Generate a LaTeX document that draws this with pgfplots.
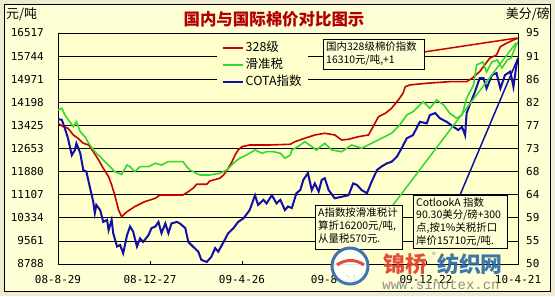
\documentclass[border=0pt]{standalone}
\usepackage{fontspec}
\setmainfont{Noto Sans CJK SC}
\newfontfamily\tickfont{DejaVu Sans Mono}
\newfontfamily\wwwfont{Liberation Mono}
\usepackage{pgfplots}
\pgfplotsset{compat=1.18}
\definecolor{bgout}{HTML}{EFEBD3}
\definecolor{bgin}{HTML}{FFFFD6}
\definecolor{bgplot}{HTML}{FFFFCC}
\definecolor{cred}{HTML}{C80000}
\definecolor{cgreen}{HTML}{33D633}
\definecolor{cblue}{HTML}{1010A8}
\definecolor{ctitle}{HTML}{B00000}
\definecolor{wmred}{HTML}{E03A2A}
\definecolor{wmblue}{HTML}{2A66A8}

\begin{document}
\begin{tikzpicture}[x=1bp,y=1bp]
\fill[bgout] (0,0) rectangle (555,296);
\draw[fill=bgin, line width=0.8bp] (4.5,4.5) rectangle (550.5,291.5);

\begin{axis}[at={(58bp,32bp)}, anchor=south west, scale only axis,
 width=460bp, height=231bp,
 xmin=0, xmax=600, ymin=8788, ymax=16517,
 scaled y ticks=false, scaled x ticks=false,
 axis background/.style={fill=bgplot},
 axis line style={black, line width=0.8bp},
 xtick={0,120,240,360,480,600},
 xticklabels={08-8-29,08-12-27,09-4-26,09-8-24,09-12-22,10-4-21},
 xtick pos=lower,
 ytick={8788,9561,10334,11107,11880,12653,13425,14198,14971,15744,16517},
 yticklabels={8788,9561,10334,11107,11880,12653,13425,14198,14971,15744,16517},
 ytick pos=left,
 ymajorgrids, grid style={black, line width=0.7bp},
 major tick length=3bp,
 ytick style={draw=none},
 xtick style={black, line width=0.7bp},
 ticklabel style={font=\tickfont\fontsize{11}{12}\selectfont},
 yticklabel style={inner sep=0pt, xshift=-14bp},
 xticklabel style={inner sep=0pt, yshift=-11bp},
]
\addplot[cred, line width=1.6bp] coordinates {
(0,13497) (7,13383) (13,13330) (20,13105) (26,12995) (33,12828) (40,12771)
(46,12546) (53,12269) (59,11991) (66,11710) (70,11432) (74,11097) (79,10595)
(83,10371) (90,10538) (100,10706) (113,10873) (127,10987) (133,11097) (163,11097)
(170,11208) (176,11322) (181,11455) (194,11455) (198,11566) (211,11656) (216,11767)
(222,11991) (227,12212) (231,12436) (235,12603) (240,12714) (250,12771) (277,12771)
(303,12794) (309,12881) (322,12995) (335,13105) (348,13162) (361,13105) (370,12938)
(379,12961) (392,13049) (405,13105) (411,13383) (418,13718) (427,13832) (435,13999)
(444,14277) (450,14501) (453,14722) (459,14779) (481,14836) (511,14889) (533,14889)
(540,15003) (550,15224) (563,15672) (572,15783) (577,16061) (585,16174) (594,16285)
(600,16342)};
\addplot[cgreen, line width=1.6bp] coordinates {
(0,13942) (5,13999) (9,13775) (20,13383) (24,13551) (29,13216) (35,13049) (40,12828)
(48,12546) (55,12379) (61,12212) (68,12044) (74,11877) (83,11790) (90,12101) (94,12044)
(100,11877) (107,12044) (118,12044) (127,12158) (135,12101) (144,12212) (153,12212)
(163,12212) (168,12044) (172,11934) (185,11767) (198,11767) (211,11824) (220,11934)
(231,12212) (237,12326) (246,12436) (257,12603) (266,12493) (272,12546) (281,12546)
(290,12493) (296,12326) (303,12436) (305,12603) (313,12714) (322,12881) (331,12714)
(337,12603) (348,12828) (357,12603) (370,12546) (383,12771) (396,12660) (409,12828)
(422,12995) (435,13162) (446,13450) (455,13775) (463,13885) (472,14109) (476,14220)
(485,13999) (494,14277) (503,14109) (511,13832) (520,13664) (527,13775) (533,14334)
(542,14779) (546,15448) (554,15549) (559,15214) (566,15549) (573,15615) (579,15348)
(586,15615) (591,15682) (596,16017) (600,16218)};
\end{axis}

\begin{axis}[at={(58bp,32bp)}, anchor=south west, scale only axis,
 width=460bp, height=231bp,
 xmin=0, xmax=600, ymin=50, ymax=95,
 axis x line=none, axis y line*=right,
 axis line style={black, line width=0.8bp},
 ytick={50,54.5,59,63.5,68,72.5,77,81.5,86,90.5,95},
 yticklabels={50,55,59,64,68,73,77,82,86,91,95},
 ytick style={draw=none},
 ticklabel style={font=\tickfont\fontsize{11}{12}\selectfont},
 yticklabel style={anchor=west, inner sep=0pt, xshift=8bp},
 legend image code/.code={\draw[#1] (0bp,0bp) -- (20bp,0bp);},
 legend style={at={(rel axis cs:0.3457,0.983)}, anchor=north west, draw=none,
   fill=bgplot, font=\fontsize{12.5}{13}\selectfont, row sep=1bp,
   inner xsep=5bp, inner ysep=3bp,
   nodes={inner sep=1.5bp, text height=10bp, text depth=3bp}},
 legend cell align=left,
]
\addlegendimage{cred, line width=1.6bp}
\addlegendentry{328级}
\addlegendimage{cgreen, line width=1.6bp}
\addlegendentry{滑准税}
\addplot[cblue, line width=2bp] coordinates {
(0,78.2) (5,78.1) (9,76.4) (13,74.5) (18,71.2) (22,72.2) (24,73.5) (29,71.6) (33,68.3)
(37,68.0) (42,64.7) (46,62.1) (48,59.9) (50,61.5) (55,60.5) (59,58.2) (64,58.6) (66,56.6)
(70,58.6) (72,56.0) (77,53.4) (81,53.7) (85,52.1) (90,55.6) (94,57.3) (98,56.3) (103,53.4)
(107,55.0) (111,54.3) (118,55.6) (122,57.0) (127,57.3) (131,58.2) (135,56.0) (140,57.9)
(144,56.0) (148,57.9) (155,58.2) (159,57.9) (166,57.0) (170,54.3) (176,53.4) (183,52.4)
(187,50.8) (194,50.4) (200,51.4) (205,53.1) (209,52.4) (216,54.3) (222,56.0) (229,57.0)
(235,58.2) (242,58.9) (250,60.5) (257,63.4) (261,61.5) (268,62.5) (272,61.8) (279,63.4)
(285,61.8) (290,62.5) (296,60.5) (300,61.2) (305,60.9) (311,63.8) (316,64.4) (320,66.4)
(326,67.7) (331,64.4) (335,65.7) (340,64.1) (344,66.4) (348,66.7) (353,64.4) (361,62.8)
(370,63.1) (379,63.4) (385,65.7) (390,65.4) (396,64.4) (403,63.8) (409,66.0) (416,68.3)
(422,69.0) (429,69.6) (435,69.9) (442,70.9) (448,72.5) (455,74.5) (463,75.1) (472,77.7)
(481,77.4) (485,79.0) (492,79.4) (498,78.4) (507,77.7) (516,76.7) (522,76.1) (527,76.7)
(531,75.1) (533,79.4) (537,81.0) (544,83.6) (550,86.2) (555,86.2) (559,84.2) (566,86.8)
(572,87.2) (577,84.2) (583,86.8) (590,87.5) (594,84.5) (598,88.8) (600,90.1)};
\addlegendentry{COTA指数}
\end{axis}

% pointer lines
\draw[cred, line width=1.5bp] (424,244) -- (517,258);
\draw[cgreen, line width=1.5bp] (393,91) -- (516,253);
\draw[cblue, line width=1.5bp] (460,101) -- (518,238);

% annotation boxes
\draw[fill=bgin, line width=0.8bp] (323,227) rectangle (424,257);
\node[anchor=north west, inner sep=0pt, align=left,
  font=\fontsize{10.5}{13.5}\selectfont] at (326,255) {国内328级棉价指数\\16310元/吨,+1};
\draw[fill=bgin, line width=0.8bp] (315,47) rectangle (402,91);
\node[anchor=north west, inner sep=0pt, align=left,
  font=\fontsize{10.5}{13.3}\selectfont] at (318,89) {A指数按滑准税计\\算折16200元/吨,\\从量税570元.};
\draw[fill=bgin, line width=0.8bp] (413,48) rectangle (507,101);
\node[anchor=north west, inner sep=0pt, align=left,
  font=\fontsize{10.5}{13}\selectfont] at (416,99) {CotlookA 指数\\90.30美分/磅+300\\点,按1\%关税折口\\岸价15710元/吨.};

% titles
\node[text=ctitle, font=\bfseries\fontsize{16.5}{17}\selectfont] at (274,276.5) {国内与国际棉价对比图示};
\node[font=\fontsize{13}{14}\selectfont, anchor=west, inner sep=0pt] at (6,281.5) {元/吨};
\node[font=\fontsize{13}{14}\selectfont, anchor=east, inner sep=0pt] at (550,282) {美分/磅};

% watermark
\begin{scope}[opacity=0.9]
\fill[white] (350,30) circle (19);
\draw[wmblue, line width=3bp] (350,30) circle (18);
\draw[wmred, line width=3bp] (337,31) .. controls (345,37) and (356,37) .. (364,31);
\node[text=wmred, font=\bfseries\fontsize{22}{22}\selectfont] at (405,32) {锦桥};
\node[text=gray, font=\fontsize{8}{8}\selectfont] at (434,41) {®};
\node[text=wmblue, font=\bfseries\fontsize{22}{22}\selectfont] at (470,32) {纺织网};
\node[text=gray, font=\wwwfont\fontsize{14}{14}\selectfont] at (441,11) {www.sinotex.cn};
\end{scope}
\end{tikzpicture}
\end{document}
